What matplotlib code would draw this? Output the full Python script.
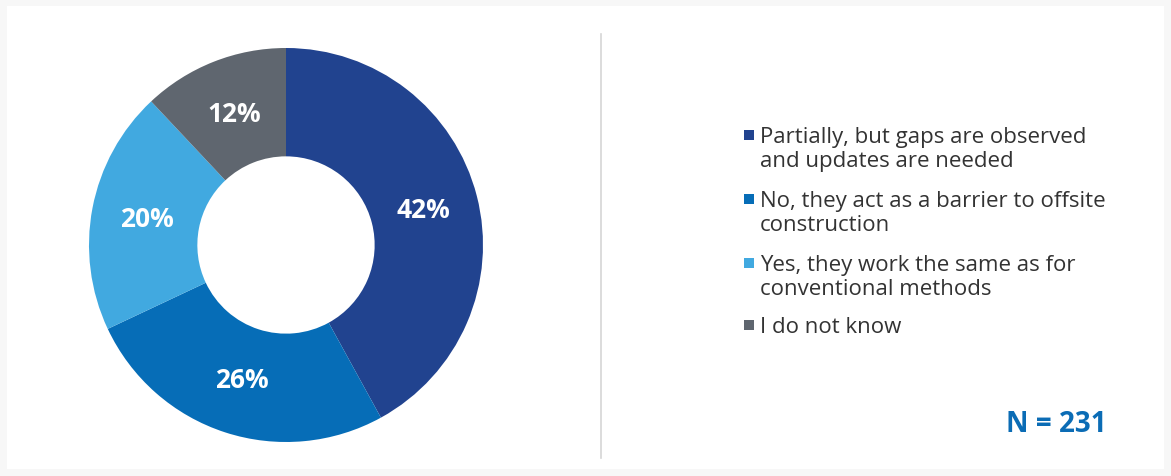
import matplotlib.pyplot as plt
from matplotlib.patches import Rectangle

# Survey answers, share of respondents (%)
answers = [
    "Partially, but gaps are observed\nand updates are needed",
    "No, they act as a barrier to offsite\nconstruction",
    "Yes, they work the same as for\nconventional methods",
    "I do not know",
]
shares = [42, 26, 20, 12]
colors = ["#21438f", "#066db7", "#41a9e0", "#5f666f"]
n_respondents = 231

plt.rcParams['font.family'] = ['Open Sans', 'DejaVu Sans']

W, H = 1171, 477
fig = plt.figure(figsize=(W / 100, H / 100), dpi=100)
fig.patch.set_facecolor("#f7f7f7")

# white card with a thin grey border
card = fig.add_axes([7 / W, 7 / H, 1 - 14 / W, 1 - 14 / H])
card.set_facecolor("white")
card.set_xticks([])
card.set_yticks([])
for s in card.spines.values():
    s.set_visible(False)

# vertical divider between donut and legend
fig.add_artist(plt.Line2D([601 / W, 601 / W], [1 - 35 / H, 1 - 459 / H],
                          color="#d6d6d6", lw=1.2))

# donut
ax = fig.add_axes([89 / W, 34 / H, 394 / W, 394 / H])
wedges, texts, autotexts = ax.pie(
    shares, colors=colors, startangle=90, counterclock=False,
    radius=1, wedgeprops=dict(width=0.55, edgecolor="none"),
    autopct=lambda p: f"{p:.0f}%", pctdistance=0.72,
)
for t in autotexts:
    t.set_color("white")
    t.set_fontsize(19)
    t.set_fontweight("bold")
ax.set_xlim(-1, 1)
ax.set_ylim(-1, 1)
ax.set_aspect("equal")
ax.axis("off")

# legend drawn by hand
first_lines = [136, 200, 264, 326]
for label, col, y in zip(answers, colors, first_lines):
    fig.add_artist(Rectangle((744 / W, 1 - (y + 5) / H), 10 / W, 10 / H,
                             transform=fig.transFigure, color=col, lw=0))
    fig.text(760 / W, 1 - (y - 9) / H, label, ha="left", va="top",
             fontsize=16, color="#333333", linespacing=1.18)

fig.text(1107 / W, 1 - 425 / H, f"N = {n_respondents}", ha="right", va="center",
         fontsize=20, fontweight="bold", color="#0b6cb5")

fig.savefig("out.png", dpi=100, facecolor=fig.get_facecolor())
